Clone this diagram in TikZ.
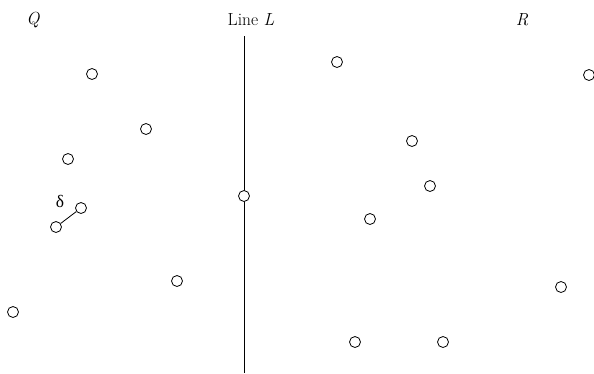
\documentclass[tikz,border=0pt]{standalone}
\usepackage{fontspec}
\newfontfamily\greekfont{Liberation Serif}
\begin{document}
\begin{tikzpicture}[x=1pt,y=-1pt,
  pt/.style={circle,draw,line width=0.8pt,inner sep=0pt,minimum size=11pt,fill=white},
  lbl/.style={font=\fontsize{17.5}{19}\selectfont,inner sep=0pt}]
\clip (0,0) rectangle (594,373);
\useasboundingbox (0,0) rectangle (594,373);
\node[lbl] (Q) at (33,20) {\itshape Q};
\node[lbl] (L) at (251,20) {Line \itshape L};
\node[lbl] (R) at (522,20) {\itshape R};
\coordinate (ltop) at (244,36);
\coordinate (lbot) at (244,373);
\draw[line width=0.8pt] (ltop) -- (lbot);
\node[pt] (c1) at (92,74) {};
\node[pt] (c2) at (146,129) {};
\node[pt] (c3) at (68,159) {};
\node[pt] (c4) at (81,208) {};
\node[pt] (c5) at (56,227) {};
\node[pt] (c6) at (177,281) {};
\node[pt] (c7) at (13,312) {};
\node[pt] (c8) at (244,196) {};
\node[pt] (c9) at (337,62) {};
\node[pt] (c10) at (589,75) {};
\node[pt] (c11) at (412,141) {};
\node[pt] (c12) at (430,186) {};
\node[pt] (c13) at (370,219) {};
\node[pt] (c14) at (561,287) {};
\node[pt] (c15) at (355,342) {};
\node[pt] (c16) at (443,342) {};
\draw[line width=0.8pt] (c5) -- (c4);
\node[lbl] (d) at (60,201) {\greekfont δ};
\end{tikzpicture}
\end{document}
